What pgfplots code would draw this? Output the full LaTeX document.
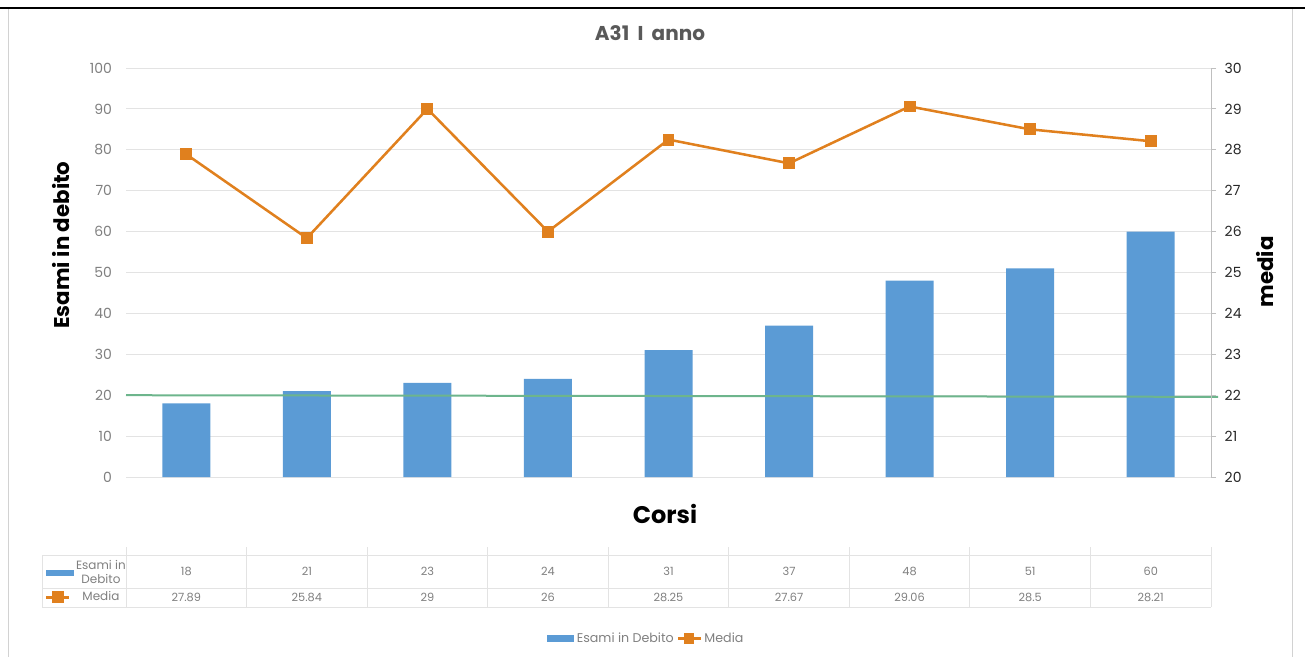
\documentclass[border=0pt]{standalone}
\usepackage{pgfplots}
\pgfplotsset{compat=1.18}
\usepackage{fontspec}
\setmainfont{Poppins}

\definecolor{barblue}{HTML}{5B9BD5}
\definecolor{lineorange}{HTML}{E0801E}
\definecolor{trendgreen}{HTML}{6DB58C}
\definecolor{gridgray}{HTML}{E3E3E3}
\definecolor{axisgray}{HTML}{BFBFBF}
\definecolor{txtgray}{HTML}{7F7F7F}
\definecolor{titlegray}{HTML}{595959}

\begin{document}
\begin{tikzpicture}
\pgfplotsset{
  base/.style={
    scale only axis, width=813.75pt, height=306.75pt,
    at={(94.5pt,-357.75pt)}, anchor=south west,
    xmin=-0.5, xmax=8.5, clip=false,
    /pgf/number format/assume math mode=true,
  },
}
% left axis: bars
\begin{axis}[base,
  ymin=0, ymax=100, ytick={0,10,...,100},
  axis line style={draw=none},
  major tick length=0pt,
  xtick=\empty,
  ymajorgrids, grid style={gridgray, line width=0.75pt},
  yticklabel style={font=\fontsize{10.5}{12}\selectfont, text=txtgray, xshift=-7pt},
  legend style={at={(0.48,-0.395)}, anchor=center, draw=none, fill=none,
    legend columns=2, font=\fontsize{9.5}{11}\selectfont, text=txtgray,
    inner sep=0pt, /tikz/every even column/.append style={column sep=0pt}},
]
\addplot[ybar, bar width=36pt, fill=barblue, draw=none,
  legend image code/.code={\fill[barblue] (0pt,-2.5pt) rectangle (20pt,2.5pt);}]
  coordinates {(0,18) (1,21) (2,23) (3,24) (4,31) (5,37) (6,48) (7,51) (8,60)};
\addlegendentry{Esami in Debito}
\addlegendimage{lineorange, line width=1.9pt, mark=square*, mark size=3pt}
\addlegendentry{Media}
\addplot[trendgreen, line width=1.5pt, forget plot] coordinates {(-0.5,20) (8.56,19.6)};
\end{axis}

% right axis: media
\begin{axis}[base,
  ymin=20, ymax=30, ytick={20,21,...,30},
  axis x line=none, axis y line*=right,
  y axis line style={-, draw=axisgray, line width=0.75pt},
  ytick style={axisgray, line width=0.75pt},
  tick align=outside, major tick length=3.75pt,
  xtick=\empty,
  yticklabel style={font=\fontsize{10.5}{12}\selectfont, text=black!85, xshift=3pt},
  legend style={at={(-0.0747,-0.1956)}, anchor=north west, draw=none, fill=none,
    inner sep=0pt, font=\fontsize{9}{10.5}\selectfont, text=txtgray,
    cells={align=center}, row sep=1pt},
]
\addlegendimage{legend image code/.code={\fill[barblue] (0pt,-2pt) rectangle (20pt,2pt);}}
\addlegendentry{Esami in\\Debito}
\addplot[lineorange, line width=1.9pt, mark=square*, mark size=3.5pt, mark options={solid}]
  coordinates {(0,27.89) (1,25.84) (2,29) (3,26) (4,28.25) (5,27.67) (6,29.06) (7,28.5) (8,28.21)};
\addlegendentry{Media}
\end{axis}

% frame, titles and data table (1 unit = 1 px of the reference)
\begin{scope}[x=0.75pt, y=-0.75pt]
  \draw[black, line width=2.2pt] (0,8) -- (1305,8);
  \draw[axisgray!70, line width=0.75pt] (8,9) -- (8,657);
  \draw[axisgray!70, line width=0.75pt] (1292,9) -- (1292,657);

  \node[font=\bfseries\fontsize{15}{17}\selectfont, text=titlegray] at (650,33) {A31\hspace{3pt} I\hspace{3pt} anno};
  \node[font=\bfseries\fontsize{18}{20}\selectfont] at (665,514) {Corsi};
  \node[font=\bfseries\fontsize{16}{18}\selectfont, rotate=90] at (61,245) {Esami in debito};
  \node[font=\bfseries\fontsize{16}{18}\selectfont, rotate=90] at (1265,272) {media};

  \draw[gridgray, line width=0.75pt] (42,555) -- (1211,555) (42,588) -- (1211,588) (42,607) -- (1211,607) (42,555) -- (42,607);
  \foreach \k in {0,...,9} \draw[gridgray, line width=0.75pt] ({126+120.556*\k},547) -- ({126+120.556*\k},607);
  \foreach \v [count=\i from 0] in {18,21,23,24,31,37,48,51,60}
    \node[font=\fontsize{8.5}{10}\selectfont, text=txtgray] at ({186.28+120.556*\i},571) {\v};
  \foreach \v [count=\i from 0] in {27.89,25.84,29,26,28.25,27.67,29.06,28.5,28.21}
    \node[font=\fontsize{8.5}{10}\selectfont, text=txtgray] at ({186.28+120.556*\i},597) {\v};

  \pgfresetboundingbox
  \path (0,0) rectangle (1305,657);
\end{scope}
\end{tikzpicture}
\end{document}
